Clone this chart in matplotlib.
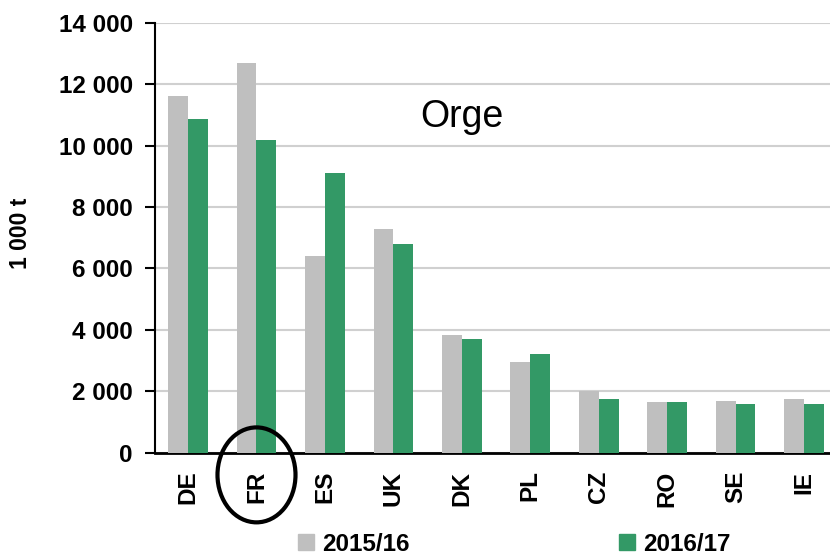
import matplotlib
matplotlib.use("Agg")
import matplotlib.pyplot as plt
from matplotlib.patches import Ellipse, Patch
from matplotlib.ticker import FuncFormatter
import numpy as np

countries = ["DE", "FR", "ES", "UK", "DK", "PL", "CZ", "RO", "SE", "IE"]
prod_2015 = [11610, 12690, 6400, 7280, 3830, 2950, 2000, 1650, 1680, 1750]
prod_2016 = [10870, 10180, 9110, 6800, 3700, 3210, 1750, 1650, 1590, 1590]

gray = "#BFBFBF"
green = "#339966"

plt.rcParams["font.family"] = ["Liberation Sans", "DejaVu Sans"]
plt.rcParams["font.weight"] = "bold"

fig = plt.figure(figsize=(8.3, 5.58), dpi=100)
ax = fig.add_axes([0.187, 0.189, 0.813, 0.770])

x = np.arange(len(countries))
w = 0.29
ax.bar(x - w / 2, prod_2015, w, color=gray, zorder=3)
ax.bar(x + w / 2, prod_2016, w, color=green, zorder=3)

ax.set_ylim(0, 14000)
ax.set_xlim(-0.48, 9.38)
ax.set_yticks(np.arange(0, 14001, 2000))
ax.yaxis.set_major_formatter(FuncFormatter(lambda v, p: f"{int(v):,}".replace(",", " ")))
ax.grid(axis="y", color="#D0D0D0", lw=1.5, zorder=0)
ax.set_xticks(x)
ax.set_xticklabels(countries, rotation=90, fontsize=17.5, fontweight="bold")
ax.tick_params(axis="x", length=0, pad=13)
ax.tick_params(axis="y", length=7, width=1.5, pad=9, labelsize=17.5)
for lab in ax.get_yticklabels():
    lab.set_fontweight("bold")

for s in ["top", "right"]:
    ax.spines[s].set_visible(False)
ax.spines["left"].set_linewidth(1.5)
ax.spines["bottom"].set_linewidth(2)

ax.set_ylabel("1 000 t", fontsize=16.5, fontweight="bold")
ax.yaxis.set_label_coords(-0.183, 0.51)

ax.text(0.455, 0.78, "Orge", transform=ax.transAxes, fontsize=27,
        fontweight="normal", ha="center", va="center")

trans = matplotlib.transforms.blended_transform_factory(ax.transData, ax.transAxes)
ax.add_patch(Ellipse((1, -0.052), 1.14, 0.221, transform=trans, fill=False,
                     ec="black", lw=3, clip_on=False, zorder=5))

handles = [Patch(color=gray, label="2015/16"), Patch(color=green, label="2016/17")]
fig.legend(handles=handles, loc="center", bbox_to_anchor=(0.62, 0.025), ncol=2,
           frameon=False, fontsize=17.5, handlelength=0.65, handleheight=0.65,
           handletextpad=0.35, columnspacing=8.6)

fig.savefig("out.png", dpi=100)
